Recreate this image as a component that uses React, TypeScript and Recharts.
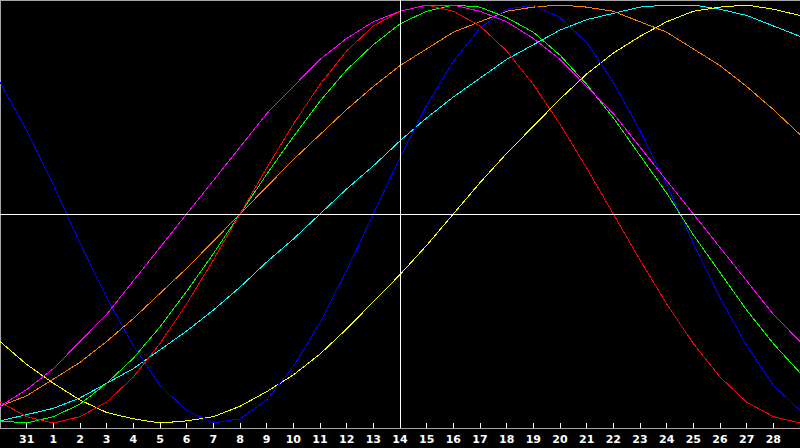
import React from 'react';
import { LineChart, Line, XAxis, YAxis, ReferenceLine } from 'recharts';

// day labels, one per plotted point (index 0 = 30th of previous month)
const DAY_LABELS = [
  '30', '31', '1', '2', '3', '4', '5', '6', '7', '8', '9', '10', '11', '12', '13', '14',
  '15', '16', '17', '18', '19', '20', '21', '22', '23', '24', '25', '26', '27', '28', '29',
];
const TICKS = [1, 2, 3, 4, 5, 6, 7, 8, 9, 10, 11, 12, 13, 14, 15, 16, 17, 18, 19, 20, 21, 22, 23, 24, 25, 26, 27, 28, 29];

// cycle values in percent (-100..100)
const PHYSICAL = [63, 40, 14, -14, -40, -63, -82, -94, -100, -98, -89, -73, -52, -27, 0, 27, 52, 73, 89, 98, 100, 94, 82, 63, 40, 14, -14, -40, -63, -82, -94];
const EMOTIONAL = [-90, -97, -100, -97, -90, -78, -62, -43, -22, 0, 22, 43, 62, 78, 90, 97, 100, 97, 90, 78, 62, 43, 22, 0, -22, -43, -62, -78, -90, -97, -100];
const INTELLECTUAL = [-99, -100, -97, -91, -81, -69, -54, -37, -19, 0, 19, 37, 54, 69, 81, 91, 97, 100, 99, 94, 87, 76, 62, 46, 28, 10, -10, -28, -46, -62, -76];
const INTUITIVE = [-92, -84, -74, -61, -48, -32, -16, 0, 16, 32, 48, 61, 74, 84, 92, 97, 100, 100, 97, 92, 84, 74, 61, 48, 32, 16, 0, -16, -32, -48, -61];
const AESTHETIC = [-61, -72, -81, -89, -95, -98, -100, -99, -97, -92, -85, -77, -67, -55, -42, -29, -15, 0, 15, 29, 42, 55, 67, 77, 85, 92, 97, 99, 100, 98, 95];
const AWARENESS = [-92, -87, -79, -71, -61, -50, -38, -26, -13, 0, 13, 26, 38, 50, 61, 71, 79, 87, 92, 97, 99, 100, 99, 97, 92, 87, 79, 71, 61, 50, 38];
const SPIRITUAL = [-99, -96, -93, -88, -81, -74, -65, -56, -46, -35, -23, -12, 0, 12, 23, 35, 46, 56, 65, 74, 81, 88, 93, 96, 99, 100, 100, 98, 95, 90, 85];

const chartData = DAY_LABELS.map((label, i) => ({
  idx: i,
  label,
  physical: PHYSICAL[i],
  emotional: EMOTIONAL[i],
  intellectual: INTELLECTUAL[i],
  intuitive: INTUITIVE[i],
  aesthetic: AESTHETIC[i],
  awareness: AWARENESS[i],
  spiritual: SPIRITUAL[i],
}));

const Y_MAX = 102.4;

const DayTick = ({ x, y, payload }: any) => (
  <g>
    <line x1={x} y1={y - 5} x2={x} y2={y} stroke="#ffffff" strokeWidth={1} />
    <text
      x={x}
      y={y + 15}
      textAnchor="middle"
      fill="#ffffff"
      fontSize={11}
      fontWeight="bold"
      fontFamily="DejaVu Sans"
    >
      {DAY_LABELS[payload.value]}
    </text>
  </g>
);

export default function App() {
  const common = { type: 'linear' as const, dot: false, activeDot: false, strokeWidth: 1, isAnimationActive: false };
  return (
    <div style={{ position: 'absolute', left: 0, top: 0, width: 800, height: 448, background: '#000000' }}>
      {/* old-style aliased 1px lines */}
      <style>{'.bio-chart path, .bio-chart line { shape-rendering: crispEdges; }'}</style>
      <LineChart className="bio-chart" width={800} height={448} data={chartData} margin={{ top: 0, right: 0, bottom: 0, left: 0 }}>
        <XAxis
          dataKey="idx"
          type="number"
          domain={[0, 30]}
          ticks={TICKS}
          interval={0}
          height={20}
          tickSize={0}
          tickMargin={0}
          tickLine={false}
          axisLine={{ stroke: '#a8a8a8' }}
          tick={<DayTick />}
        />
        <YAxis hide domain={[-Y_MAX, Y_MAX]} />
        <ReferenceLine y={Y_MAX} stroke="#a8a8a8" strokeWidth={2} />
        <ReferenceLine x={0} stroke="#a8a8a8" strokeWidth={2} />
        <Line dataKey="spiritual" stroke="#00ffff" {...common} />
        <Line dataKey="aesthetic" stroke="#ffff00" {...common} />
        <Line dataKey="awareness" stroke="#ff8000" {...common} />
        <Line dataKey="physical" stroke="#0000ff" {...common} />
        <Line dataKey="intellectual" stroke="#00ff00" {...common} />
        <Line dataKey="emotional" stroke="#ff0000" {...common} />
        <Line dataKey="intuitive" stroke="#ff00ff" {...common} />
        <ReferenceLine x={15} stroke="#ffffff" strokeWidth={1} />
        <ReferenceLine y={0} stroke="#ffffff" strokeWidth={1} />
      </LineChart>
    </div>
  );
}
